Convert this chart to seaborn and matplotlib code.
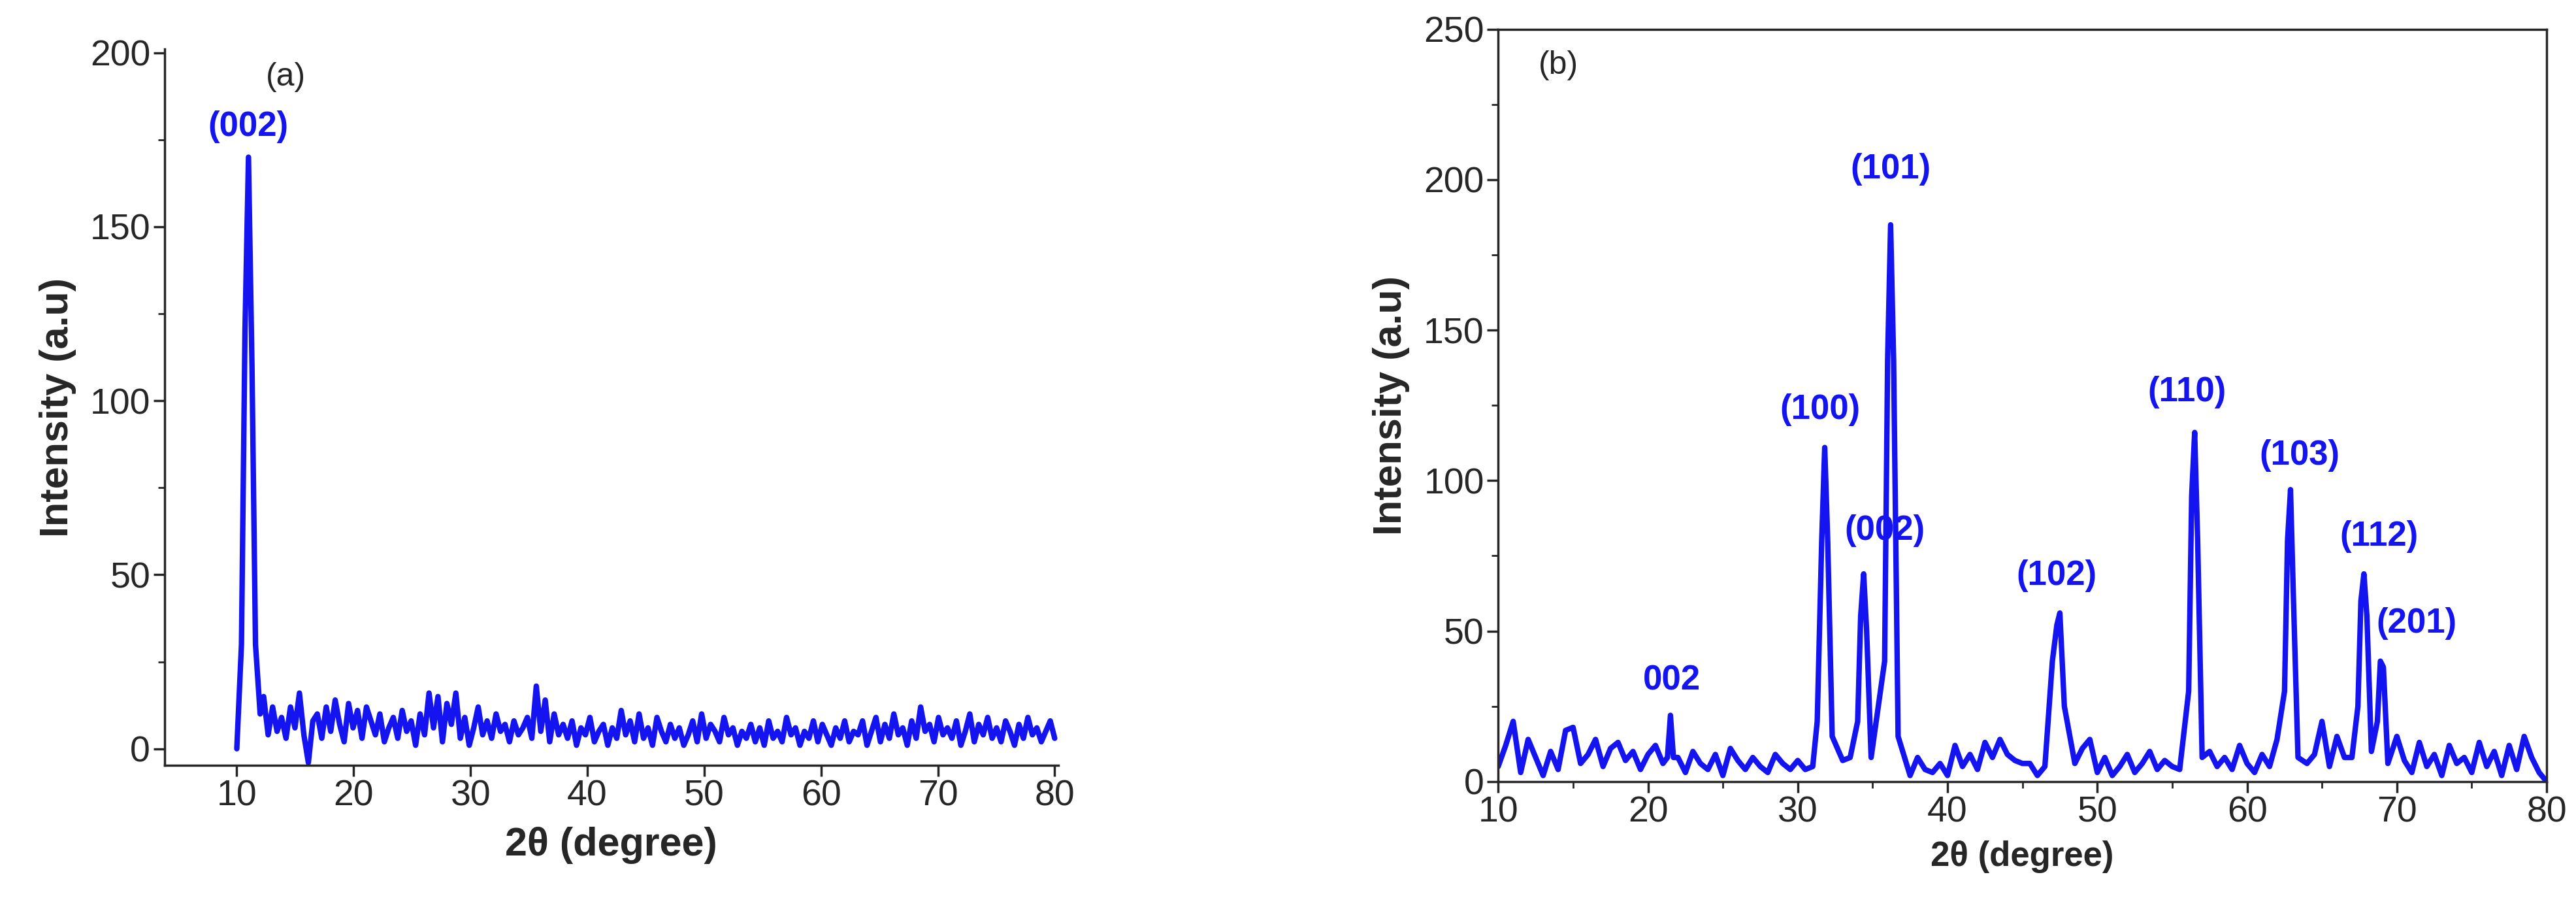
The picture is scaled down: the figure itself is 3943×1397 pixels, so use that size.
import numpy as np
import matplotlib
matplotlib.use("Agg")
import matplotlib.pyplot as plt
import seaborn as sns

sns.set_style("ticks")
plt.rcParams['font.family'] = ['Liberation Sans', 'DejaVu Sans']

BLUE = '#1414f0'

# ---------- panel (a) data ----------
a_peak_x = [10.0, 10.4, 10.7, 11.0, 11.3, 11.6, 12.0]
a_peak_y = [0, 30, 120, 170, 110, 30, 10]
a_base_y = [15, 4, 12, 5, 9, 3, 12, 6, 16, 4, -4, 8, 10, 3, 12, 5, 14, 7, 2, 13, 6, 11, 3, 12, 8, 4, 10,
            2, 6, 9, 3, 11, 5, 8, 1, 10, 4, 16, 6, 15, 2, 13, 7, 16, 3, 9, 1, 6, 12, 4, 8, 3, 10, 5,
            7, 2, 8, 4, 6, 9, 3, 18, 5, 14, 2, 10, 4, 7, 3, 8, 1, 6, 4, 9, 2, 5, 7, 1, 6, 3, 11, 4,
            8, 2, 10, 3, 6, 1, 9, 5, 2, 7, 3, 6, 1, 4, 8, 2, 10, 3, 7, 5, 2, 9, 4, 6, 1, 5, 3, 7,
            2, 6, 1, 8, 3, 5, 2, 9, 4, 6, 1, 5, 3, 8, 2, 7, 4, 1, 6, 3, 8, 2, 5, 4, 8, 1,
            5, 9, 2, 7, 3, 10, 4, 6, 1, 8, 3, 12, 5, 7, 2, 9, 4, 6, 3, 8, 1, 5, 10, 2, 7, 4,
            9, 3, 6, 2, 8, 5, 1, 7, 3, 9, 4, 6, 2, 5, 8, 3]
a_base_x = list(np.linspace(12.3, 80, len(a_base_y)))

# ---------- panel (b) data ----------
b_base_y = [5, 12, 20, 3, 14, 8, 2, 10, 4, 17, 18, 6, 9, 14, 5, 11, 13, 7, 10, 4, 9, 12, 6, 5, 8, 3,
            10, 6, 4, 9, 2, 11, 7, 4, 8, 5, 3, 9, 6, 4, 7, 4, 5, 6, 3, 5, 7, 8, 5, 6, 4, 4,
            7, 3, 6, 2, 8, 4, 3, 6, 2, 12, 5, 9, 4, 13, 8, 14, 9, 7, 6, 6, 2, 5, 9, 4, 13, 6, 11,
            14, 3, 8, 2, 5, 9, 3, 6, 10, 4, 7, 5, 4, 3, 7, 2, 10, 5, 8, 4, 12, 6, 3, 9, 5, 14,
            8, 4, 12, 6, 9, 20, 5, 15, 8, 8, 6, 6, 12, 4, 10, 15, 7, 3, 13, 5, 9, 2, 12, 6, 8, 3,
            13, 5, 10, 2, 12, 4, 15, 8, 3, 0]
b_x = list(np.linspace(10, 80, len(b_base_y)))
b_peak_x = [31.3, 31.6, 31.8, 32.0, 32.3, 34.0, 34.2, 34.4, 34.6, 34.9, 35.8, 36.0, 36.2, 36.4, 36.7,
            47.0, 47.3, 47.5, 47.8, 56.1, 56.3, 56.5, 56.7, 57.0, 62.5, 62.7, 62.9, 63.1, 63.4,
            67.4, 67.6, 67.8, 68.0, 68.3, 68.7, 68.9, 69.1, 69.4, 21.3, 21.5, 21.7]
b_peak_y = [20, 80, 111, 80, 15, 20, 55, 69, 50, 8, 40, 140, 185, 140, 15,
            40, 52, 56, 25, 30, 95, 116, 80, 8, 30, 80, 97, 60, 8,
            25, 60, 69, 55, 10, 20, 40, 38, 6, 8, 22, 8]

def merge(bx, by, px, py):
    keep = [(x, y) for x, y in zip(bx, by)
            if min(abs(x - p) for p in px) > 0.3]
    pts = sorted(keep + list(zip(px, py)))
    return [p[0] for p in pts], [p[1] for p in pts]

ax_x, ax_y = merge(a_base_x, a_base_y, a_peak_x, a_peak_y)
bx, by = merge(b_x, b_base_y, b_peak_x, b_peak_y)

a_labels = [("(002)", 11.0, 174)]
b_labels = [("002", 21.6, 28), ("(100)", 31.5, 118), ("(002)", 35.8, 78), ("(101)", 36.2, 198),
            ("(102)", 47.3, 63), ("(110)", 56.0, 124), ("(103)", 63.5, 103), ("(112)", 68.8, 76),
            ("(201)", 71.3, 47)]

fig = plt.figure(figsize=(39.43, 13.97), dpi=100)
axa = fig.add_axes([0.0638, 0.162, 0.347, 0.784])
axb = fig.add_axes([0.5816, 0.144, 0.407, 0.824])

TICK = 40
LAB = 44
ANN = 38
for ax in (axa, axb):
    ax.tick_params(labelsize=TICK, width=2.5, length=12, direction='out')
    ax.tick_params(which='minor', width=2, length=7)
    for s in ax.spines.values():
        s.set_linewidth(2.5)

sns.lineplot(x=ax_x, y=ax_y, ax=axa, color=BLUE, lw=6, sort=False)
axa.set_xlim(3.8, 80.3)
axa.set_ylim(-4.7, 201)
axa.set_xticks(range(10, 81, 10))
axa.set_yticks(range(0, 201, 50))
axa.set_yticks(range(0, 201, 25), minor=True)
axa.set_xticks([], minor=True)
sns.despine(ax=axa)
axa.set_xlabel("2θ (degree)", fontsize=LAB, fontweight='bold', labelpad=15)
axa.set_ylabel("Intensity (a.u)", fontsize=LAB, fontweight='bold', labelpad=15)
axa.text(12.5, 193, "(a)", fontsize=TICK - 4, ha='left', va='center')
for t, x, y in a_labels:
    axa.text(x, y, t, fontsize=ANN, fontweight='bold', color=BLUE, ha='center', va='bottom')

sns.lineplot(x=bx, y=by, ax=axb, color=BLUE, lw=6, sort=False)
axb.set_xlim(10, 80)
axb.set_ylim(0, 250)
axb.set_xticks(range(10, 81, 10))
axb.set_xticks(range(15, 80, 10), minor=True)
axb.set_yticks(range(0, 251, 50))
axb.set_yticks(range(25, 250, 50), minor=True)
axb.set_xlabel("2θ (degree)", fontsize=LAB - 6, fontweight='bold', labelpad=12)
axb.set_ylabel("Intensity (a.u)", fontsize=LAB, fontweight='bold', labelpad=15)
axb.text(14, 238, "(b)", fontsize=TICK - 4, ha='center', va='center')
for t, x, y in b_labels:
    axb.text(x, y, t, fontsize=ANN, fontweight='bold', color=BLUE, ha='center', va='bottom')

fig.savefig("out.png", dpi=100)
